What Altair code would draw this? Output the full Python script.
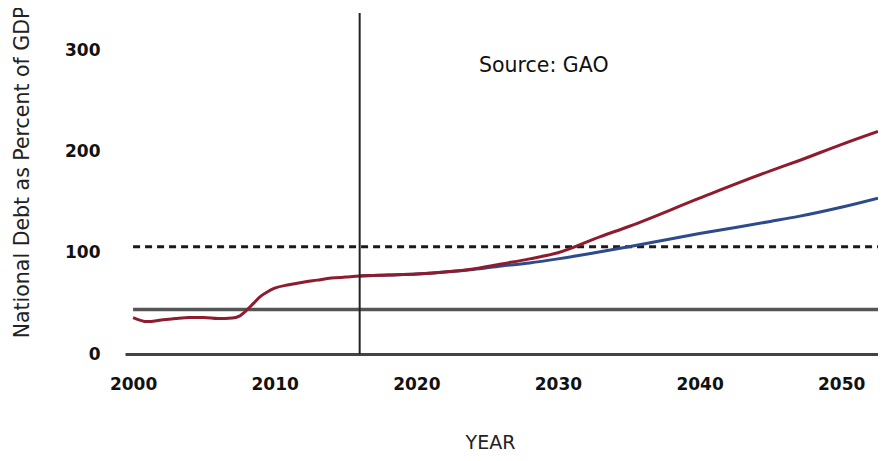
import altair as alt
import pandas as pd

# ---- data ----
hist_years = [2000, 2001, 2002, 2003, 2004, 2005, 2006, 2007, 2007.5, 2008, 2008.5, 2009,
              2009.5, 2010, 2011, 2012, 2013, 2014, 2015, 2016]
hist_debt = [36, 32, 33.5, 35, 36, 36, 35, 35.5, 37.5, 43, 50, 57,
             61.5, 65, 68.5, 71, 73, 75, 76, 77]

proj_years = [2016, 2018, 2020, 2022, 2024, 2026, 2028, 2030, 2033, 2035, 2040, 2045, 2047, 2050, 2052.6]
red_proj = [77, 78, 79, 81, 84, 89, 94, 100, 116, 126, 154, 181, 191, 207, 220]
blue_proj = [77, 78, 79, 81, 83.5, 87, 90, 94, 101, 106, 119, 131, 136, 145, 154]

ref_dashed = 106      # dashed reference level
ref_solid = 44        # solid grey reference level
marker_year = 2016    # vertical divider
source_note = "Source: GAO"

x_ticks = [2000, 2010, 2020, 2030, 2040, 2050]
y_ticks = [0, 100, 200, 300]

X_DOMAIN = [1999.43, 2052.6]
Y_DOMAIN = [0, 337]

red_df = pd.DataFrame({"year": hist_years + proj_years[1:],
                       "debt": hist_debt + red_proj[1:]})
blue_df = pd.DataFrame({"year": proj_years, "debt": blue_proj})

x_scale = alt.Scale(domain=X_DOMAIN, nice=False, zero=False)
y_scale = alt.Scale(domain=Y_DOMAIN, nice=False, zero=True)

x_axis = alt.Axis(values=x_ticks, format="d", title="YEAR", grid=False, ticks=False,
                  domain=True, domainColor="#444444", domainWidth=3,
                  labelFont="DejaVu Sans", labelFontWeight="bold", labelFontSize=17,
                  labelColor="#111111", labelPadding=22, labelFlush=False,
                  titleFont="DejaVu Sans", titleFontWeight="normal", titleFontSize=19,
                  titleColor="#222222", titleX=365, titleY=88, titleAnchor="start",
                  titleAlign="center", titleBaseline="middle")
y_axis = alt.Axis(values=y_ticks, title="National Debt as Percent of GDP", grid=False,
                  ticks=False, domain=False,
                  labelFont="DejaVu Sans", labelFontWeight="bold", labelFontSize=17,
                  labelColor="#111111", labelPadding=25,
                  titleFont="DejaVu Sans", titleFontWeight="normal", titleFontSize=20.5,
                  titleColor="#222222", titleX=-103, titleY=159, titleAngle=270,
                  titleAlign="center", titleBaseline="middle", titleAnchor="start")

base_x = alt.X("year:Q", scale=x_scale, axis=x_axis)
base_y = alt.Y("debt:Q", scale=y_scale, axis=y_axis)

solid_df = pd.DataFrame({"year": [2000], "year2": [X_DOMAIN[1]], "debt": [ref_solid]})
dashed_df = pd.DataFrame({"year": [2000], "year2": [X_DOMAIN[1]], "debt": [ref_dashed]})
vline_df = pd.DataFrame({"year": [marker_year], "debt": [Y_DOMAIN[0]], "debt2": [Y_DOMAIN[1]]})
note_df = pd.DataFrame({"year": [2029.0], "debt": [285], "label": [source_note]})

solid = alt.Chart(solid_df).mark_rule(color="#555555", strokeWidth=3.5).encode(
    x=base_x, x2="year2:Q", y=base_y)
dashed = alt.Chart(dashed_df).mark_rule(color="#1a1a1a", strokeWidth=3,
                                        strokeDash=[7, 5]).encode(
    x=alt.X("year:Q", scale=x_scale), x2="year2:Q", y=alt.Y("debt:Q", scale=y_scale))
vline = alt.Chart(vline_df).mark_rule(color="#222222", strokeWidth=2).encode(
    x=alt.X("year:Q", scale=x_scale), y=alt.Y("debt:Q", scale=y_scale), y2="debt2:Q")
blue = alt.Chart(blue_df).mark_line(color="#2C4A8C", strokeWidth=3,
                                    interpolate="monotone").encode(
    x=alt.X("year:Q", scale=x_scale), y=alt.Y("debt:Q", scale=y_scale))
red = alt.Chart(red_df).mark_line(color="#8E1B2E", strokeWidth=3,
                                  interpolate="monotone").encode(
    x=alt.X("year:Q", scale=x_scale), y=alt.Y("debt:Q", scale=y_scale))
note = alt.Chart(note_df).mark_text(font="DejaVu Sans", fontSize=20.5, color="#111111",
                                    align="center", baseline="middle").encode(
    x=alt.X("year:Q", scale=x_scale), y=alt.Y("debt:Q", scale=y_scale), text="label:N")

chart = alt.layer(solid, dashed, blue, red, vline, note).properties(
    width=753, height=341,
    background="white",
    autosize=alt.AutoSizeParams(type="none"),
    padding={"left": 117, "top": 5, "right": 0, "bottom": 99},
).configure_view(stroke=None)

chart.save("out.html", embed_options={"renderer": "svg", "actions": False})
